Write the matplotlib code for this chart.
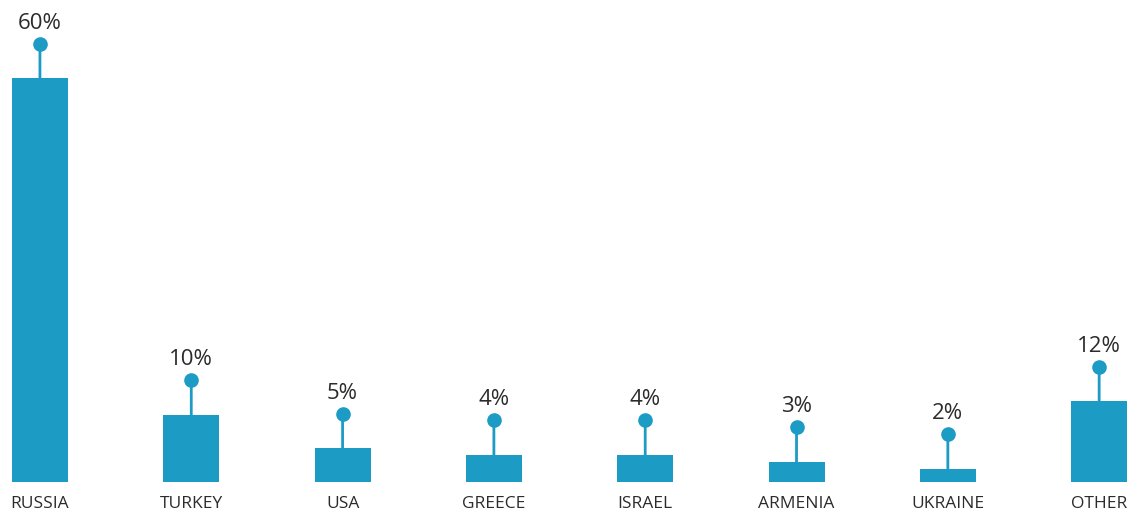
import matplotlib.pyplot as plt
from matplotlib.transforms import offset_copy

countries = ['RUSSIA', 'TURKEY', 'USA', 'GREECE', 'ISRAEL', 'ARMENIA', 'UKRAINE', 'OTHER']
shares = [60, 10, 5, 4, 4, 3, 2, 12]
value_labels = ['60%', '10%', '5%', '4%', '4%', '3%', '2%', '12%']

BLUE = '#1c9bc5'
TEXT = '#2b2b2b'


def main():
    plt.rcParams['font.family'] = ['Open Sans', 'DejaVu Sans']
    fig = plt.figure(figsize=(11.27, 5.10), dpi=100)
    ax = fig.add_axes([0, 0, 1, 1])

    x = list(range(len(countries)))
    ax.bar(x, shares, width=0.37, color=BLUE)

    ax.set_xlim(-0.264, 7.184)
    ax.set_ylim(-4.0, 71.8)
    ax.axis('off')

    # stem length above each bar, in points
    stem = 25
    for xi, val, lab, name in zip(x, shares, value_labels, countries):
        dot = offset_copy(ax.transData, fig=fig, y=stem, units='points')
        ax.annotate('', xy=(xi, val), xytext=(0, stem), textcoords='offset points',
                    arrowprops=dict(arrowstyle='-', color=BLUE, lw=2,
                                    shrinkA=0, shrinkB=0))
        ax.plot([xi], [val], marker='o', markersize=9.5, color=BLUE,
                transform=dot, clip_on=False)
        ax.annotate(lab, xy=(xi, val), xytext=(0, stem + 8),
                    textcoords='offset points', ha='center', va='bottom',
                    fontsize=16, color=TEXT)
        ax.annotate(name, xy=(xi, 0), xytext=(0, -15),
                    textcoords='offset points', ha='center', va='center',
                    fontsize=12.5, color=TEXT)

    fig.savefig('out.png', dpi=100)


if __name__ == '__main__':
    main()
